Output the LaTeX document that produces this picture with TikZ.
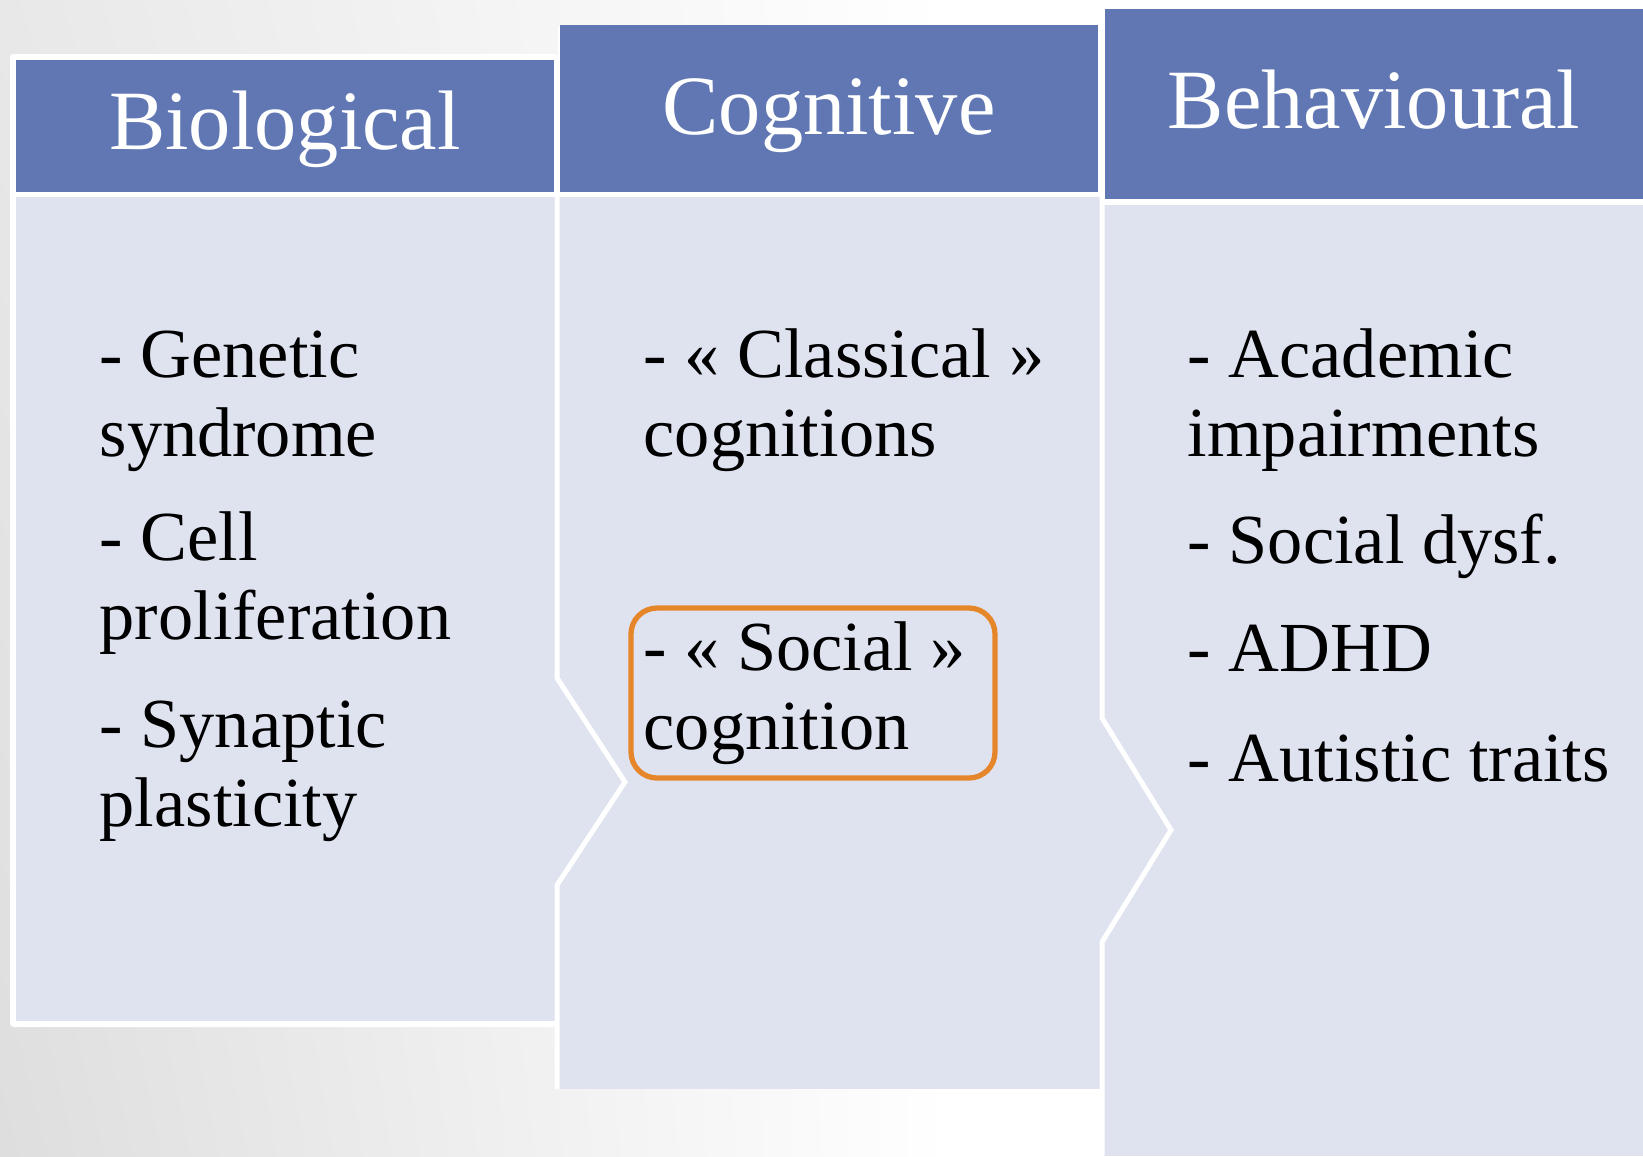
\documentclass[tikz,border=0pt]{standalone}
\usepackage{fontspec}
\setmainfont{Liberation Serif}
\usetikzlibrary{positioning,shadings}
\definecolor{headblue}{RGB}{96,119,180}
\definecolor{bodyblue}{RGB}{223,227,240}
\definecolor{hiorange}{RGB}{230,134,42}
\tikzstyle{head} = [fill=headblue]
\tikzstyle{body} = [fill=bodyblue]
\tikzstyle{frame} = [fill=white, rounded corners=1pt]
\tikzstyle{title} = [anchor=base, inner sep=0pt, text=white,
    font=\fontsize{24}{28}\selectfont]
\tikzstyle{item} = [anchor=base west, align=left, inner sep=0pt,
    font=\fontsize{20}{22.4}\selectfont]
\tikzstyle{notch} = [draw=white, line width=1.42pt, miter limit=10]
\tikzstyle{focus} = [draw=hiorange, line width=1.5pt, rounded corners=7.4pt]

\begin{document}
\begin{tikzpicture}[x=0.01cm, y=-0.01cm]
    \useasboundingbox (0,0) rectangle (1643,1156);
    % Background
    \fill[white] (0,0) rectangle (1643,1156);
    \shade[upper left=black!9, lower left=black!13, upper right=white, lower right=white]
        (0,0) rectangle (950,1156);
    % Columns
    \fill[frame] (10,54) rectangle (558,1027);
    \fill[frame] (558,25) rectangle (1100,1089);
    \fill[frame] (1100,4) rectangle (1643,1156);
    \fill[head] (15.5,60) rectangle (554,192);
    \fill[head] (560,25) rectangle (1098,192);
    \fill[head] (1105,9) rectangle (1643,199);
    \fill[body] (15.5,197) rectangle (558,1021);
    \fill[body] (558,197) rectangle (1100,1089);
    \fill[body] (1100,205) rectangle (1643,1156);
    \path[notch] (557,197) -- (557,678) -- (625,782) -- (557,885) -- (557,1089);
    \path[notch] (1102,197) -- (1102,718) -- (1171,830) -- (1102,942) -- (1102,1156);
    % Place nodes (base = last line)
    \node[title] (bio) at (285,149) {Biological};
    \node[title] (cog) at (829,134) {Cognitive};
    \node[title] (beh) at (1374,128) {Behavioural};
    \node[item] (genetic) at (99,456) {- Genetic\\syndrome};
    \node[item] (cell) at (99,639) {- Cell\\proliferation};
    \node[item] (synaptic) at (99,826) {- Synaptic\\plasticity};
    \node[item] (classical) at (643,456) {- « Classical »\\cognitions};
    \node[item] (social) at (643,749) {- « Social »\\cognition};
    \node[item] (academic) at (1187,456) {- Academic\\impairments};
    \node[item] (dysf) at (1187,563) {- Social dysf.};
    \node[item] (adhd) at (1187,671) {- ADHD};
    \node[item] (autistic) at (1187,781) {- Autistic traits};
    % Highlight
    \draw[focus] (631,608) rectangle (995,778);
\end{tikzpicture}
\end{document}
